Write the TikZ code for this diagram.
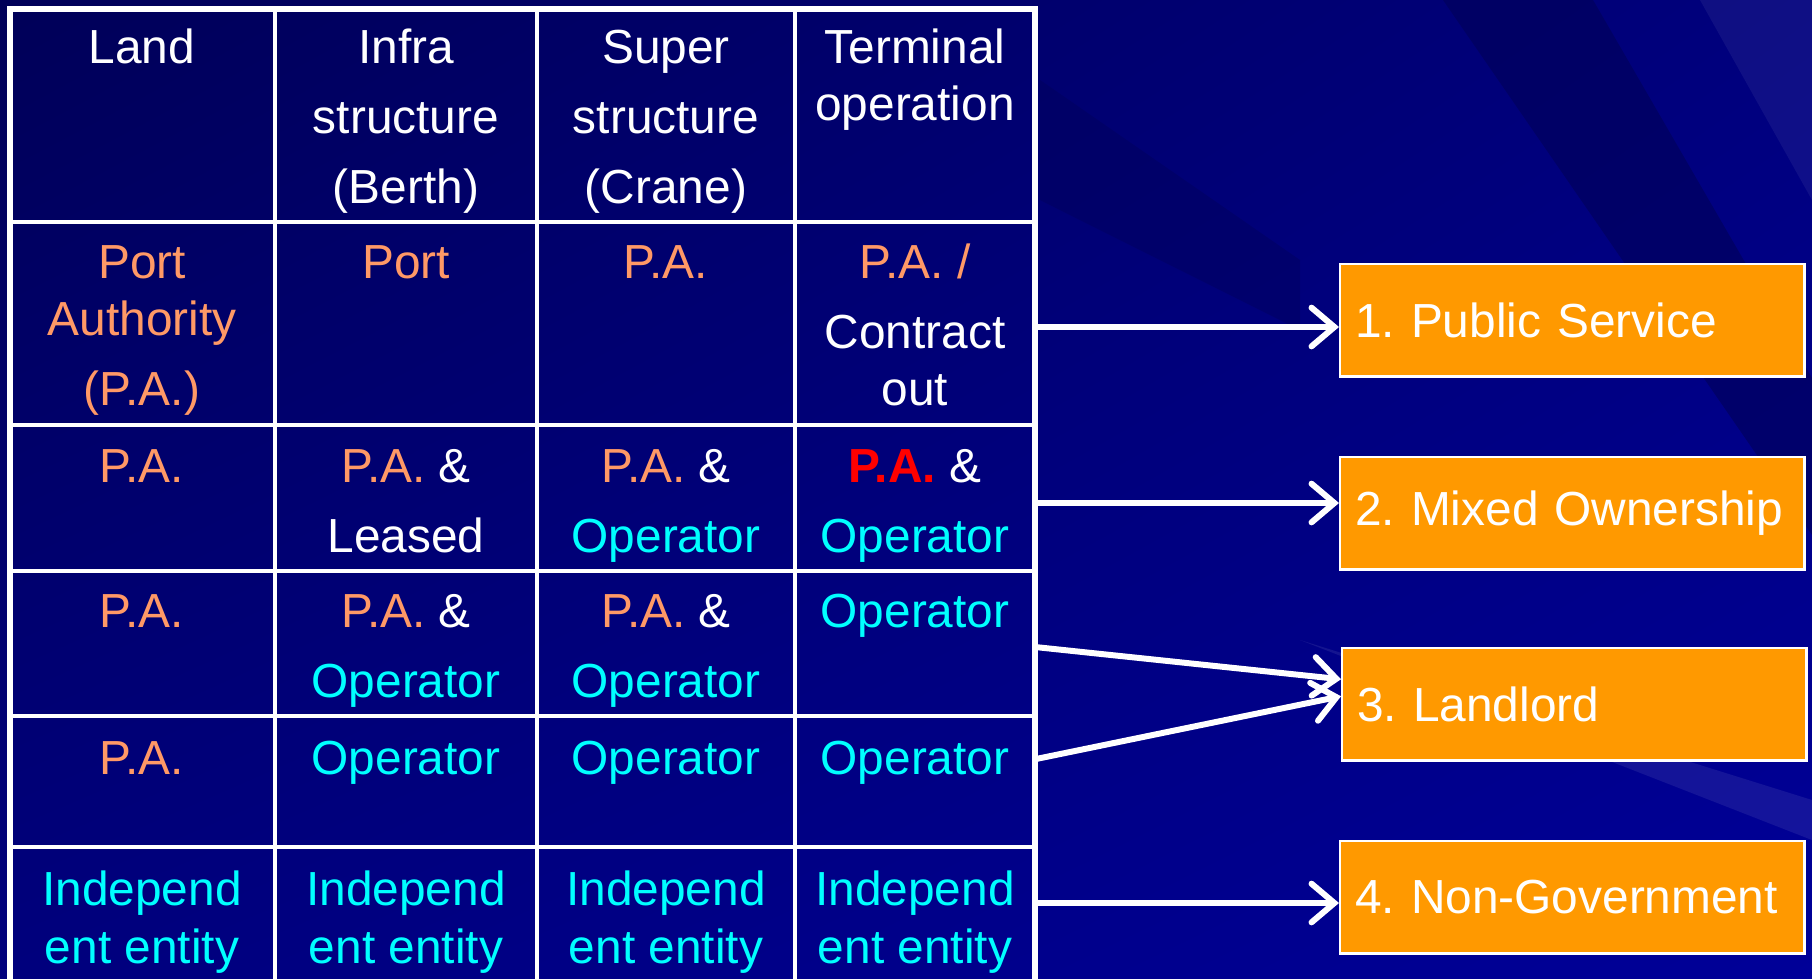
\documentclass[tikz,border=0pt]{standalone}
\usepackage{fontspec}
\setmainfont{Liberation Sans}
\frenchspacing
\usetikzlibrary{arrows.meta, shadings}

\definecolor{bgdark}{RGB}{0,0,88}
\definecolor{bgmid}{RGB}{0,0,125}
\definecolor{bglight}{RGB}{0,0,152}
\definecolor{paorange}{RGB}{255,153,102}
\definecolor{opcyan}{RGB}{0,255,255}
\definecolor{boxorange}{RGB}{255,153,0}
% anchor = base sits on the last line of a cell
\tikzset{cell/.style = {anchor = base, align = center, inner sep = 0, text = white,
    font = \fontsize{13.6}{19.84}\selectfont}}
\tikzset{grid/.style = {draw = white, line width = 0.9pt}}
\tikzset{typebox/.style = {draw = white, line width = 0.7pt, fill = boxorange, text = white,
    anchor = north west, minimum height = 1.12cm, text width = 4.34cm, inner xsep = 0.15cm,
    inner ysep = 0, align = left, font = \fontsize{13.6}{16}\selectfont}}
\tikzset{arr/.style = {draw = white, line width = 1.7pt, line cap = round,
    -{Straight Barb[length = 6.5pt, width = 11pt, line cap = round]}}}
\newcommand{\pa}{\textcolor{paorange}{P.A.}}
\newcommand{\op}{\textcolor{opcyan}{Operator}}

\begin{document}
\begin{tikzpicture}[x = 0.01cm, y = -0.01cm]
    \useasboundingbox (0, 0) rectangle (1812, 978);
    \shade [upper left = bgdark, upper right = bgmid, lower left = bgmid, lower right = bglight]
        (0, 0) rectangle (1812, 978);
    % streaks
    \fill [bgdark, opacity = .6] (1443, 0) -- (1593, 0) -- (1812, 378) -- (1812, 535) -- cycle;
    \fill [white, opacity = .06] (1700, 0) -- (1812, 0) -- (1812, 200) -- cycle;
    \fill [white, opacity = .08] (1300, 640) -- (1812, 800) -- (1812, 840) -- cycle;
    \fill [bgdark, opacity = .4] (1040, 80) -- (1300, 260) -- (1300, 330) -- (1040, 200) -- cycle;
    % table
    \draw [grid, line width = 1.7pt] (10, 990) -- (10, 9) -- (1035, 9) -- (1035, 990);
    \foreach \x in {275, 537, 795} \draw [grid] (\x, 9) -- (\x, 990);
    \foreach \y in {222, 425, 571, 716, 847} \draw [grid] (10, \y) -- (1035, \y);
    % header
    \node [cell] (land) at (142, 63) {Land};
    \node [cell] (infra) at (406, 203) {Infra\\structure\\(Berth)};
    \node [cell] (super) at (666, 203) {Super\\structure\\(Crane)};
    \node [cell] (term) at (915, 120) {Terminal\\[-3.7pt]operation};
    % 1. public service
    \node [cell, text = paorange] (land1) at (142, 405) {Port\\[-3.7pt]Authority\\(P.A.)};
    \node [cell, text = paorange] (infra1) at (406, 278) {Port};
    \node [cell] (super1) at (666, 278) {\pa};
    \node [cell] (term1) at (915, 405) {\textcolor{paorange}{P.A. /}\\Contract\\[-3.7pt]out};
    % 2. mixed
    \node [cell] (land2) at (142, 482) {\pa};
    \node [cell] (infra2) at (406, 552) {\pa{} \&\\Leased};
    \node [cell] (super2) at (666, 552) {\pa{} \&\\\op};
    \node [cell] (term2) at (915, 552) {\textcolor{red}{\textbf{P.A.}} \&\\\op};
    % 3. landlord
    \node [cell] (land3) at (142, 627) {\pa};
    \node [cell] (infra3) at (406, 697) {\pa{} \&\\\op};
    \node [cell] (super3) at (666, 697) {\pa{} \&\\\op};
    \node [cell] (term3) at (915, 627) {\op};
    \node [cell] (land4) at (142, 774) {\pa};
    \node [cell] (infra4) at (406, 774) {\op};
    \node [cell] (super4) at (666, 774) {\op};
    \node [cell] (term4) at (915, 774) {\op};
    % 4. non-government
    \node [cell, text = opcyan] (land5) at (142, 963) {Independ\\[-3.4pt]ent entity};
    \node [cell, text = opcyan] (infra5) at (406, 963) {Independ\\[-3.4pt]ent entity};
    \node [cell, text = opcyan] (super5) at (666, 963) {Independ\\[-3.4pt]ent entity};
    \node [cell, text = opcyan] (term5) at (915, 963) {Independ\\[-3.4pt]ent entity};
    % types
    \node [typebox] (pubserv) at (1339, 263) {1. Public Service};
    \node [typebox] (mixed) at (1339, 456) {2. Mixed Ownership};
    \node [typebox] (landlord) at (1341, 647) {3. Landlord};
    \node [typebox] (nongov) at (1339, 840) {4. Non-Government};
    \coordinate (s1) at (1035, 327);
    \coordinate (s2) at (1035, 503);
    \coordinate (s3) at (1035, 647);
    \coordinate (s4) at (1036, 759);
    \coordinate (s5) at (1035, 903);
    \draw [arr] (s1) -- (s1 -| pubserv.west);
    \draw [arr] (s2) -- (s2 -| mixed.west);
    \draw [arr] (s3) -- ([yshift = 0.25cm]landlord.west);
    \draw [arr] (s4) -- ([yshift = 0.08cm]landlord.west);
    \draw [arr] (s5) -- (s5 -| nongov.west);
\end{tikzpicture}
\end{document}
